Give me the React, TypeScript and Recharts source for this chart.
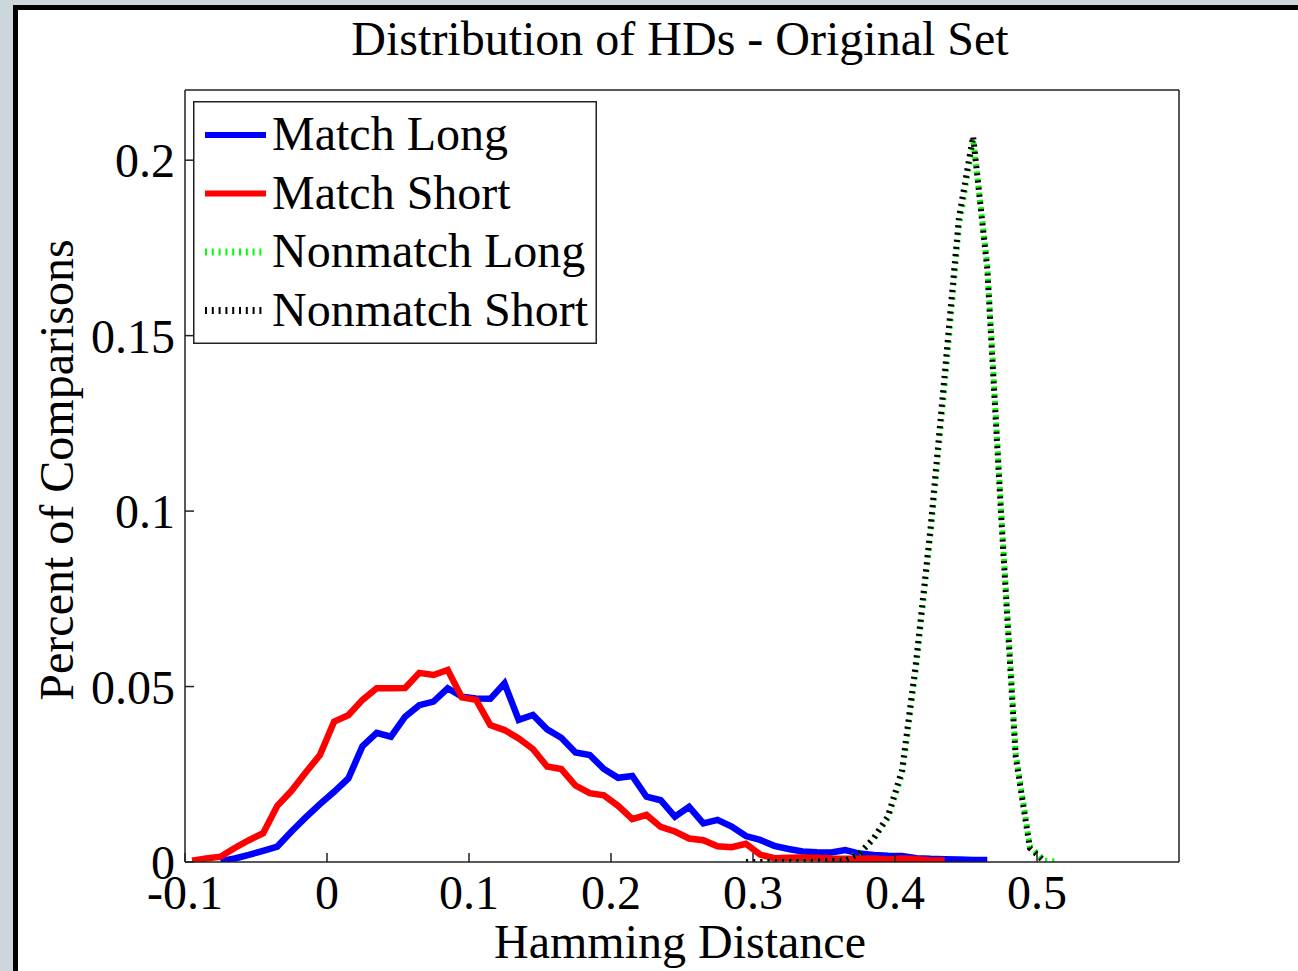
import { LineChart, Line, XAxis, YAxis, Legend } from "recharts"

// bin centres (Hamming distance)
const hd = [
  -0.095, -0.085, -0.075, -0.065, -0.055, -0.045, -0.035, -0.025, -0.015, -0.005,
  0.005, 0.015, 0.025, 0.035, 0.045, 0.055, 0.065, 0.075, 0.085, 0.095,
  0.105, 0.115, 0.125, 0.135, 0.145, 0.155, 0.165, 0.175, 0.185, 0.195,
  0.205, 0.215, 0.225, 0.235, 0.245, 0.255, 0.265, 0.275, 0.285, 0.295,
  0.305, 0.315, 0.325, 0.335, 0.345, 0.355, 0.365, 0.375, 0.385, 0.395,
  0.405, 0.415, 0.425, 0.435, 0.445, 0.455, 0.465, 0.475, 0.485, 0.495,
  0.505, 0.515,
]

const matchLong = [
  null, null, 0.0002, 0.001, 0.002, 0.0032, 0.0044, 0.0087, 0.0127, 0.0165,
  0.02, 0.0238, 0.033, 0.0368, 0.0357, 0.0414, 0.0447, 0.0457, 0.0495, 0.0471,
  0.0466, 0.0465, 0.0509, 0.0405, 0.0419, 0.0378, 0.0354, 0.0312, 0.0305, 0.0265,
  0.024, 0.0245, 0.0186, 0.0176, 0.0129, 0.0157, 0.011, 0.012, 0.0101, 0.0074,
  0.0063, 0.0046, 0.0037, 0.003, 0.0028, 0.0027, 0.0034, 0.0024, 0.002, 0.0018,
  0.0017, 0.0011, 0.0009, 0.0008, 0.0007, 0.0006, 0.0006, null, null, null,
  null, null,
]

const matchShort = [
  0.0004, 0.001, 0.0015, 0.004, 0.0062, 0.0082, 0.016, 0.0203, 0.0255, 0.0305,
  0.04, 0.0418, 0.0462, 0.0495, 0.0495, 0.0496, 0.0539, 0.0533, 0.0547, 0.0469,
  0.0462, 0.039, 0.0376, 0.0352, 0.0322, 0.0272, 0.0265, 0.0218, 0.0196, 0.019,
  0.016, 0.0122, 0.0134, 0.01, 0.0087, 0.0067, 0.0062, 0.0045, 0.0042, 0.0052,
  0.0021, 0.0011, 0.0012, 0.0013, 0.0012, 0.001, 0.0009, 0.0009, 0.001, 0.0007,
  0.001, 0.0008, 0.0005, 0.0004, null, null, null, null, null, null,
  null, null,
]

const nonmatchLong = [
  null, null, null, null, null, null, null, null, null, null,
  null, null, null, null, null, null, null, null, null, null,
  null, null, null, null, null, null, null, null, null, null,
  null, null, null, null, null, null, null, null, null, null,
  0.0, 0.0001, 0.0001, 0.0002, 0.0002, 0.0003, 0.0006, 0.0026, 0.0065, 0.0125,
  0.025, 0.056, 0.0935, 0.136, 0.181, 0.206, 0.17, 0.0985, 0.031, 0.0045,
  0.0004, 0.0001,
]

const nonmatchShort = [
  null, null, null, null, null, null, null, null, null, null,
  null, null, null, null, null, null, null, null, null, null,
  null, null, null, null, null, null, null, null, null, null,
  null, null, null, null, null, null, null, null, null, 0.0,
  0.0, 0.0001, 0.0001, 0.0001, 0.0002, 0.0003, 0.0005, 0.0024, 0.0068, 0.013,
  0.0262, 0.0575, 0.095, 0.139, 0.1835, 0.2068, 0.169, 0.097, 0.03, 0.004,
  0.0002, null,
]

const xTicks = [-0.1, 0, 0.1, 0.2, 0.3, 0.4, 0.5]
const yTicks = [0, 0.05, 0.1, 0.15, 0.2]

const data = hd.map((x, i) => ({
  x,
  matchLong: matchLong[i],
  matchShort: matchShort[i],
  nonmatchLong: nonmatchLong[i],
  nonmatchShort: nonmatchShort[i],
}))

const series = [
  { key: "matchLong", name: "Match Long", color: "#0000ff", dotted: false },
  { key: "matchShort", name: "Match Short", color: "#ff0000", dotted: false },
  { key: "nonmatchLong", name: "Nonmatch Long", color: "#00ff00", dotted: true },
  { key: "nonmatchShort", name: "Nonmatch Short", color: "#000000", dotted: true },
]

const serif = '"Liberation Serif", "Times New Roman", serif'
const axisStroke = { stroke: "#222", strokeWidth: 1.5 }
const tickFont = { fill: "#000", fontSize: 48, fontFamily: serif }

function LegendBox() {
  return (
    <svg width={404} height={243} style={{ display: "block" }}>
      <rect x={0.75} y={0.75} width={402.5} height={241.5} fill="#fff" stroke="#222" strokeWidth={1.5} />
      {series.map((s, i) => {
        const y = 34 + i * 58.5
        return (
          <g key={s.key}>
            <line
              x1={12}
              x2={73}
              y1={y}
              y2={y}
              stroke={s.color}
              strokeWidth={s.dotted ? 7 : 6}
              strokeDasharray={s.dotted ? "2 4.8" : undefined}
            />
            <text x={79} y={y + 15} fontFamily={serif} fontSize={48} fill="#000">
              {s.name}
            </text>
          </g>
        )
      })}
    </svg>
  )
}

export default function App() {
  return (
    <div style={{ position: "absolute", left: 0, top: 0, width: 1298, height: 971, background: "#cdd6dc", overflow: "hidden" }}>
      <div
        style={{
          position: "absolute",
          left: 13,
          top: 5,
          right: 0,
          bottom: 0,
          background: "#fff",
          borderLeft: "5px solid #000",
          borderTop: "5px solid #000",
        }}
      />
      <div style={{ position: "absolute", left: 0, top: 0 }}>
        <LineChart width={1298} height={971} data={data} margin={{ top: 80, right: 109, bottom: 49, left: 125 }}>
          <XAxis
            dataKey="x"
            type="number"
            domain={[-0.1, 0.6]}
            ticks={xTicks}
            interval={0}
            allowDataOverflow
            tickFormatter={(v) => String(v)}
            tickSize={-9}
            tickMargin={22}
            height={60}
            axisLine={axisStroke}
            tickLine={axisStroke}
            tick={tickFont}
          />
          <XAxis
            xAxisId="top"
            orientation="top"
            dataKey="x"
            type="number"
            domain={[-0.1, 0.6]}
            ticks={xTicks}
            interval={0}
            allowDataOverflow
            tick={false}
            tickSize={-9}
            height={10}
            axisLine={axisStroke}
            tickLine={axisStroke}
          />
          <YAxis
            type="number"
            domain={[0, 0.22]}
            ticks={yTicks}
            interval={0}
            allowDataOverflow
            tickFormatter={(v) => String(v)}
            tickSize={-9}
            tickMargin={19}
            width={60}
            axisLine={axisStroke}
            tickLine={axisStroke}
            tick={tickFont}
          />
          <YAxis
            yAxisId="right"
            orientation="right"
            type="number"
            domain={[0, 0.22]}
            ticks={yTicks}
            interval={0}
            allowDataOverflow
            tick={false}
            tickSize={-9}
            width={10}
            axisLine={axisStroke}
            tickLine={axisStroke}
          />
          {series.map((s) => (
            <Line
              key={s.key}
              dataKey={s.key}
              name={s.name}
              type="linear"
              stroke={s.color}
              strokeWidth={s.dotted ? 6 : 6.5}
              strokeDasharray={s.dotted ? "2.2 5" : undefined}
              dot={false}
              activeDot={false}
              connectNulls={false}
              isAnimationActive={false}
            />
          ))}
          <Legend
            layout="horizontal"
            verticalAlign="middle"
            align="center"
            content={<LegendBox />}
            wrapperStyle={{ left: 193, top: 101, width: 404, height: 243 }}
          />
          <text x={680} y={55} textAnchor="middle" fontFamily={serif} fontSize={48} fill="#000">
            Distribution of HDs - Original Set
          </text>
          <text x={680} y={958} textAnchor="middle" fontFamily={serif} fontSize={48} fill="#000">
            Hamming Distance
          </text>
          <text
            x={73}
            y={470}
            transform="rotate(-90 73 470)"
            textAnchor="middle"
            fontFamily={serif}
            fontSize={48}
            fill="#000"
          >
            Percent of Comparisons
          </text>
        </LineChart>
      </div>
    </div>
  )
}
